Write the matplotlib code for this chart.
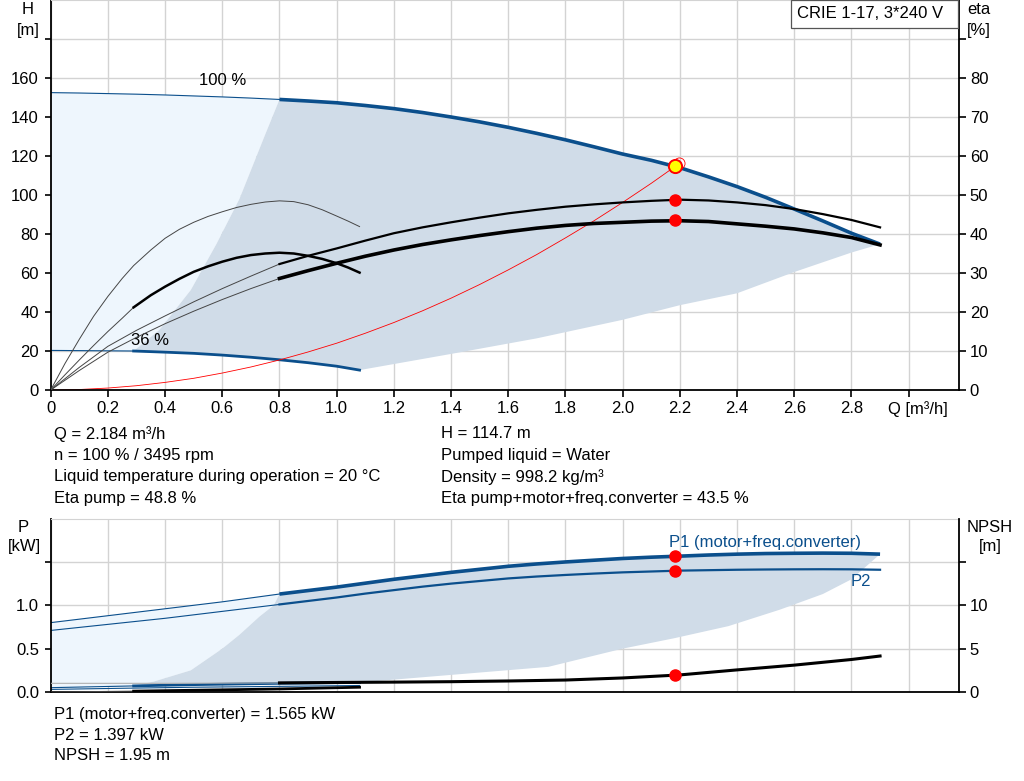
import numpy as np
import matplotlib.pyplot as plt
from matplotlib.patches import Rectangle

plt.rcParams['font.family'] = ['Liberation Sans', 'DejaVu Sans']
plt.rcParams['font.size'] = 12

BLUE = '#0b4f8c'
LIGHT = '#eef6fd'
DARK = '#d0dce8'
GRID = '#d3d3d3'
THIN = '#454545'

# ---- head chart data (Q in m3/h, H in m, eta in %) ----
q100 = [0, 0.1, 0.2, 0.3, 0.4, 0.5, 0.6, 0.7, 0.8, 0.9, 1.0, 1.1, 1.2, 1.3, 1.4,
        1.5, 1.6, 1.7, 1.8, 1.9, 2.0, 2.1, 2.2, 2.3, 2.4, 2.5, 2.6, 2.7, 2.8, 2.9]
h100 = [152.5, 152.3, 152, 151.7, 151.3, 150.8, 150.3, 149.7, 149, 148.2, 147.3, 145.9, 144.3, 142.3, 140,
        137.5, 134.7, 131.6, 128.3, 124.7, 121.0, 117.8, 114.0, 109.3, 104.3, 98.8, 92.8, 86.7, 80.4, 74.8]
eta_pump = [0, 5.8, 11.2, 15.3, 19.0, 22.6, 26.0, 29.2, 32.3, 34.4, 36.3, 38.3, 40.2, 41.7, 43.0,
            44.2, 45.3, 46.2, 47.0, 47.6, 48.1, 48.5, 48.8, 48.6, 48.1, 47.4, 46.4, 45.1, 43.6, 41.7]
eta_tot = [0, 5.0, 9.7, 13.5, 17.0, 20.2, 23.2, 26.0, 28.6, 30.6, 32.5, 34.3, 35.9, 37.3, 38.5,
           39.6, 40.6, 41.5, 42.2, 42.7, 43.0, 43.3, 43.4, 43.2, 42.6, 42.0, 41.3, 40.3, 39.1, 37.2]

q36 = [0, 0.29, 0.4, 0.5, 0.6, 0.7, 0.8, 0.9, 1.0, 1.08]
h36 = [20.3, 20.0, 19.4, 18.8, 17.9, 16.8, 15.5, 14.0, 12.2, 10.2]

q_eta36 = [0, 0.05, 0.1, 0.15, 0.2, 0.25, 0.29, 0.35, 0.4, 0.45, 0.5, 0.55, 0.6, 0.65,
           0.7, 0.75, 0.8, 0.85, 0.9, 0.95, 1.0, 1.04, 1.08]
eta_pump36 = [0, 6.8, 13.0, 18.9, 24.0, 28.6, 31.9, 35.9, 38.9, 41.2, 43.0, 44.5, 45.7, 46.8,
              47.6, 48.2, 48.5, 48.3, 47.5, 46.2, 44.6, 43.3, 41.9]
eta_tot36 = [0, 3.9, 7.7, 11.4, 15.0, 18.4, 21.2, 24.3, 26.5, 28.5, 30.3, 31.7, 32.9, 33.9,
             34.6, 35.0, 35.2, 35.0, 34.4, 33.6, 32.5, 31.4, 30.1]

q_sys = [0, 0.1, 0.2, 0.3, 0.4, 0.5, 0.6, 0.7, 0.8, 0.9, 1.0, 1.1, 1.2, 1.3, 1.4,
         1.5, 1.6, 1.7, 1.8, 1.9, 2.0, 2.1, 2.184]
h_sys = [0, 0.25, 1, 2.2, 3.9, 6, 8.7, 11.8, 15.4, 19.5, 24, 29.1, 34.6, 40.6, 47.1,
         54.1, 61.6, 69.5, 78, 86.8, 96.2, 106, 114.7]

# area limits
bnd_q = [0.29, 0.38, 0.49, 0.58, 0.66, 0.75, 0.8]
bnd_h = [20.0, 30.8, 51.3, 75, 98, 131, 149]
low_q = [1.08, 1.4, 1.7, 2.0, 2.2, 2.4, 2.6, 2.8, 2.9]
low_h = [10.2, 18.5, 26.5, 36, 43.5, 49.6, 60.5, 70.5, 74.8]

# duty point
q_op = 2.184
h_op = 114.7
eta_op_pump = 48.8
eta_op_tot = 43.5
q_req, h_req = 2.198, 116.6

# ---- power / NPSH chart data (P in kW, NPSH in m) ----
qp = [0, 0.1, 0.2, 0.3, 0.4, 0.5, 0.6, 0.7, 0.8, 0.9, 1.0, 1.1, 1.2, 1.3, 1.4,
      1.5, 1.6, 1.7, 1.8, 1.9, 2.0, 2.1, 2.2, 2.3, 2.4, 2.5, 2.6, 2.7, 2.8, 2.9]
p1 = [0.80, 0.84, 0.88, 0.92, 0.96, 1.00, 1.04, 1.085, 1.13, 1.17, 1.21, 1.255, 1.30, 1.34, 1.38,
      1.415, 1.45, 1.477, 1.50, 1.52, 1.54, 1.555, 1.567, 1.58, 1.59, 1.597, 1.60, 1.602, 1.60, 1.59]
p2 = [0.71, 0.745, 0.78, 0.815, 0.85, 0.89, 0.93, 0.97, 1.01, 1.05, 1.09, 1.135, 1.175, 1.215, 1.25,
      1.28, 1.31, 1.332, 1.35, 1.366, 1.38, 1.39, 1.40, 1.405, 1.41, 1.413, 1.415, 1.416, 1.415, 1.41]

qp36 = [0, 0.29, 0.5, 0.8, 1.08]
p1_36 = [0.05, 0.07, 0.085, 0.10, 0.11]
p2_36 = [0.03, 0.045, 0.055, 0.065, 0.075]

qn = [0, 0.4, 0.8, 1.0, 1.2, 1.4, 1.6, 1.8, 2.0, 2.2, 2.4, 2.6, 2.8, 2.9]
npsh = [1.0, 1.0, 1.05, 1.1, 1.14, 1.19, 1.27, 1.38, 1.62, 1.97, 2.55, 3.1, 3.75, 4.15]
qn36 = [0, 0.29, 0.6, 0.8, 1.08]
npsh36 = [0, 0.1, 0.25, 0.35, 0.55]

bnd_pq = [0.29, 0.36, 0.49, 0.6, 0.66, 0.73, 0.78, 0.8]
bnd_p = [0.07, 0.12, 0.25, 0.5, 0.66, 0.87, 1.0, 1.13]
low_pq = [1.08, 1.74, 2.0, 2.18, 2.37, 2.55, 2.7, 2.8, 2.9]
low_p = [0.11, 0.29, 0.5, 0.62, 0.76, 0.95, 1.13, 1.3, 1.59]

p1_op, p2_op, npsh_op = 1.565, 1.397, 1.95

W, H = 1024, 781
fig = plt.figure(figsize=(W / 100, H / 100), dpi=100)


def px(x, y):
    return x / W, 1 - y / H


def style(a, ylim, yt, ylabels, rt, rlabels, a2, r2lim):
    a.set_xlim(0, 3.175)
    a.set_ylim(*ylim)
    a.set_xticks(np.arange(0, 3.01, 0.2))
    a.set_yticks(yt)
    a.set_yticklabels(ylabels)
    a.grid(True, color=GRID, lw=1)
    a.set_axisbelow(True)
    a.spines['top'].set_color(GRID)
    for s in ['left', 'bottom']:
        a.spines[s].set_linewidth(1.3)
    a.spines['right'].set_visible(False)
    a.tick_params(axis='y', length=4.5, width=1.2, pad=4)
    a2.set_ylim(*r2lim)
    a2.set_yticks(rt)
    a2.set_yticklabels(rlabels)
    a2.tick_params(axis='y', length=5, width=1.2, pad=3)
    a2.spines['right'].set_linewidth(1.3)
    for s in ['top', 'left', 'bottom']:
        a2.spines[s].set_visible(False)


# ================= head / efficiency chart =================
ax = fig.add_axes([50.7 / W, 1 - 390 / H, 908 / W, 390 / H])
ax2 = ax.twinx()
style(ax, (0, 200), range(0, 181, 20), [str(v) for v in range(0, 161, 20)] + [''],
      range(0, 91, 10), [str(v) for v in range(0, 81, 10)] + [''], ax2, (0, 100))
xl = ['0'] + ['%.1f' % v for v in np.arange(0.2, 2.81, 0.2)] + ['']
ax.set_xticklabels(xl)
ax.tick_params(axis='x', length=5, width=1.2, pad=3)
ax.annotate('Q [m³/h]', xy=(3.0, 0), xycoords=('data', 'axes fraction'),
            xytext=(7, -14), textcoords='offset points', ha='center', va='center')

i08 = q100.index(0.8)
lq = np.concatenate([q100[:i08 + 1], bnd_q[::-1], q36[:2][::-1]])
lh = np.concatenate([h100[:i08 + 1], bnd_h[::-1], h36[:2][::-1]])
ax.fill(lq, lh, color=LIGHT, lw=0)
dq = np.concatenate([bnd_q, q100[i08:], low_q[::-1], q36[1:][::-1]])
dh = np.concatenate([bnd_h, h100[i08:], low_h[::-1], h36[1:][::-1]])
ax.fill(dq, dh, color=DARK, lw=0)

ax.plot(q100[:i08 + 1], h100[:i08 + 1], color=BLUE, lw=0.8)
ax.plot(q100[i08:], h100[i08:], color=BLUE, lw=2.6, solid_capstyle='butt')
ax.plot(q36[:2], h36[:2], color=BLUE, lw=0.8)
ax.plot(q36[1:], h36[1:], color=BLUE, lw=2.0)
ax.plot(q_sys, h_sys, color='red', lw=0.6)

ax2.plot(q100[:i08 + 1], eta_pump[:i08 + 1], color=THIN, lw=0.7)
ax2.plot(q100[i08:], eta_pump[i08:], color='black', lw=1.6)
ax2.plot(q100[:i08 + 1], eta_tot[:i08 + 1], color=THIN, lw=0.7)
ax2.plot(q100[i08:], eta_tot[i08:], color='black', lw=2.6)
i29 = q_eta36.index(0.29)
ax2.plot(q_eta36, eta_pump36, color=THIN, lw=0.7)
ax2.plot(q_eta36[:i29 + 1], eta_tot36[:i29 + 1], color=THIN, lw=0.7)
ax2.plot(q_eta36[i29:], eta_tot36[i29:], color='black', lw=1.8)
ax2.plot([q_op, q_op], [eta_op_pump, eta_op_tot], 'o', color='red', ms=8, mec='red')
ax2.plot([q_req], [h_req / 2], 'o', mfc='none', mec='red', ms=8, mew=0.6)
ax2.plot([q_op], [h_op / 2], 'o', mfc='yellow', mec='red', ms=9.5, mew=1.4)

ax.text(0.6, 158.5, '100 %', ha='center', va='center')
ax.text(0.347, 25.5, '36 %', ha='center', va='center')

fig.add_artist(Rectangle(px(791, 28), 167 / W, 28 / H, transform=fig.transFigure,
                         fc='white', ec='#555555', lw=0.9))
fig.text(*px(870, 14), 'CRIE 1-17, 3*240 V', ha='center', va='center')
fig.text(*px(28, 10), 'H', ha='center', va='center')
fig.text(*px(28, 30), '[m]', ha='center', va='center')
fig.text(*px(979, 10), 'eta', ha='center', va='center')
fig.text(*px(979, 30), '[%]', ha='center', va='center')

left = ['Q = 2.184 m³/h', 'n = 100 % / 3495 rpm',
        'Liquid temperature during operation = 20 °C', 'Eta pump = 48.8 %']
right = ['H = 114.7 m', 'Pumped liquid = Water', 'Density = 998.2 kg/m³',
         'Eta pump+motor+freq.converter = 43.5 %']
rows = [434, 455.5, 477, 498]
for t1, t2, y in zip(left, right, rows):
    fig.text(*px(54, y), t1, va='center')
    fig.text(*px(441, y), t2, va='center')

# ================= power / NPSH chart =================
axb = fig.add_axes([50.7 / W, 1 - 692 / H, 908 / W, 173.4 / H])
axb2 = axb.twinx()
style(axb, (0, 2.0), [0, 0.5, 1.0, 1.5], ['0.0', '0.5', '1.0', ''],
      [0, 5, 10, 15], ['0', '5', '10', ''], axb2, (0, 20))
axb.set_xticklabels([])
axb.tick_params(axis='x', length=0)

j08 = qp.index(0.8)
lq = np.concatenate([qp[:j08 + 1], bnd_pq[::-1], qp36[:2][::-1]])
lp = np.concatenate([p1[:j08 + 1], bnd_p[::-1], p1_36[:2][::-1]])
axb.fill(lq, lp, color=LIGHT, lw=0)
dq = np.concatenate([bnd_pq, qp[j08:], low_pq[::-1], qp36[1:][::-1]])
dp = np.concatenate([bnd_p, p1[j08:], low_p[::-1], p1_36[1:][::-1]])
axb.fill(dq, dp, color=DARK, lw=0)

axb.plot(qp[:j08 + 1], p1[:j08 + 1], color=BLUE, lw=0.8)
axb.plot(qp[j08:], p1[j08:], color=BLUE, lw=2.6, solid_capstyle='butt')
axb.plot(qp[:j08 + 1], p2[:j08 + 1], color=BLUE, lw=0.8)
axb.plot(qp[j08:], p2[j08:], color=BLUE, lw=1.6)
axb.plot(qp36[:2], p1_36[:2], color=BLUE, lw=0.8)
axb.plot(qp36[1:], p1_36[1:], color=BLUE, lw=2.0)
axb.plot(qp36, p2_36, color=BLUE, lw=0.8)
axb.plot([q_op, q_op], [p1_op, p2_op], 'o', color='red', ms=8)

axb2.plot(qn[:3], npsh[:3], color='#b0b0b0', lw=0.8)
axb2.plot(qn[2:], npsh[2:], color='black', lw=2.2)
axb2.plot(qn36[:2], npsh36[:2], color=THIN, lw=0.7)
axb2.plot(qn36[1:], npsh36[1:], color='black', lw=2.0)
axb2.plot([q_op], [npsh_op], 'o', color='red', ms=8)

fig.text(*px(669, 543), 'P1 (motor+freq.converter)', color=BLUE, va='center')
fig.text(*px(851, 581), 'P2', color=BLUE, va='center')
fig.text(*px(23, 527), 'P', ha='center', va='center')
fig.text(*px(24, 547), '[kW]', ha='center', va='center')
fig.text(*px(990, 527), 'NPSH', ha='center', va='center')
fig.text(*px(990, 547), '[m]', ha='center', va='center')

bottom = ['P1 (motor+freq.converter) = 1.565 kW', 'P2 = 1.397 kW', 'NPSH = 1.95 m']
for t, y in zip(bottom, [714, 735, 756]):
    fig.text(*px(54, y), t, va='center')

fig.savefig('out.png', dpi=100)
